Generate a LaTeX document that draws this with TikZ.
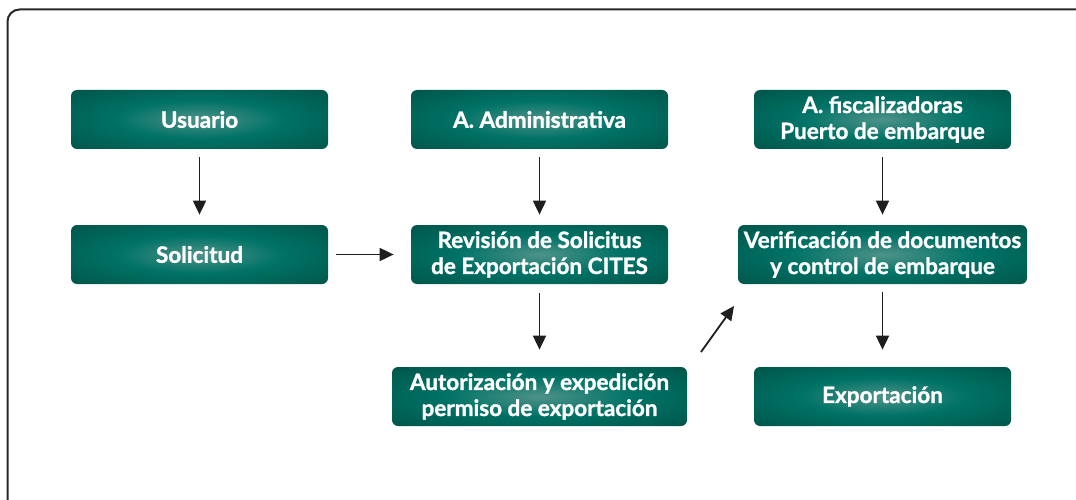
\documentclass[tikz,border=0pt]{standalone}
\usepackage{fontspec}
\setmainfont{Lato}[BoldFeatures={FakeBold=1.3}]
\usetikzlibrary{arrows.meta}

\definecolor{boxlight}{RGB}{78,146,136}
\definecolor{boxmid}{RGB}{0,114,102}
\definecolor{boxdark}{RGB}{0,82,70}
\definecolor{framegray}{RGB}{40,40,40}
\definecolor{arrowblack}{RGB}{30,30,30}

\pgfdeclareradialshading{boxglow}{\pgfpoint{0bp}{0bp}}{color(0bp)=(boxlight); color(16bp)=(boxmid); color(38bp)=(boxdark); color(50bp)=(boxdark)}

\tikzset{every picture/.style={line width=0.75pt}}
\tikzset{
  stepbox/.style={rounded corners=6, shading=boxglow, minimum width=257, minimum height=59,
    text=white, align=center, font=\fontsize{22.5}{26}\selectfont\bfseries, inner sep=0pt},
  flow/.style={draw=arrowblack, line width=1.8pt, -{Triangle[length=14pt,width=13pt]}}
}

\begin{document}
\begin{tikzpicture}[x=1pt,y=1pt,yscale=-1,xscale=1]
	\useasboundingbox (0,0) rectangle (1076,500);

	%Shape: Frame
	\draw [draw=framegray, line width=2pt, rounded corners=12] (1078,9.5) -- (7.5,9.5) -- (7.5,502) ;

	% Top row
	\node (usr) [stepbox] at (199.5,119.5) {Usuario};
	\node (adm) [stepbox] at (539.5,119.5) {A. Administrativa};
	\node (fis) [stepbox] at (882.5,119.5) {A. fiscalizadoras\\Puerto de embarque};

	% Middle row
	\node (sol) [stepbox] at (199.5,254.5) {Solicitud};
	\node (rev) [stepbox] at (539.5,254.5) {Revisión de Solicitus\\de Exportación CITES};
	\node (ver) [stepbox, minimum width=289] at (882.5,254.5) {Verificación de documentos\\y control de embarque};

	% Bottom row
	\node (aut) [stepbox, minimum width=295] at (539.5,396.5) {Autorización y expedición\\permiso de exportación};
	\node (exp) [stepbox] at (882.5,396.5) {Exportación};

	%Straight Lines
	\draw [flow, shorten <=8pt, shorten >=10pt] (usr) -- (sol) ;
	\draw [flow, shorten <=8pt, shorten >=10pt] (adm) -- (rev) ;
	\draw [flow, shorten <=8pt, shorten >=10pt] (fis) -- (ver) ;
	\draw [flow, shorten <=8pt, shorten >=17pt] (sol) -- (rev) ;
	\draw [flow, shorten <=9pt, shorten >=17pt] (rev) -- (aut) ;
	\draw [flow, shorten <=8pt, shorten >=17pt] (ver) -- (exp) ;

	%Diagonal arrow
	\coordinate (up1) at (701,352);
	\coordinate (up2) at (734,306);
	\draw [flow] (up1) -- (up2) ;

\end{tikzpicture}
\end{document}
